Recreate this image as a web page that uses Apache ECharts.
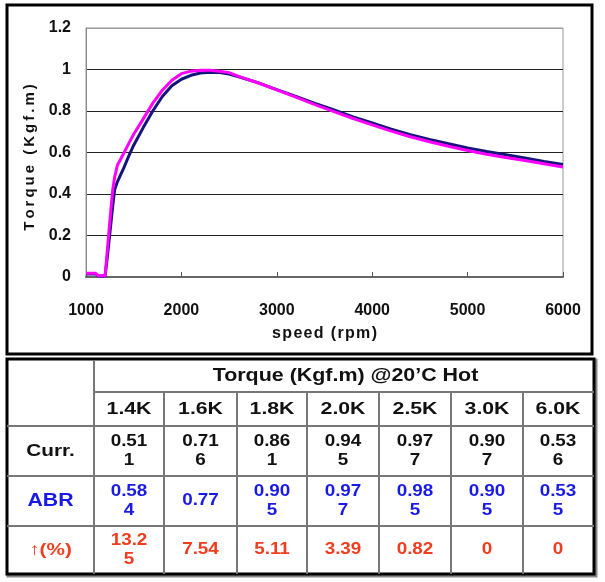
<!DOCTYPE html>
<html>
<head>
<meta charset="utf-8">
<script src="https://cdn.jsdelivr.net/npm/echarts@6/dist/echarts.min.js"></script>
<style>
html,body{margin:0;padding:0;background:#fff;}
#chart{width:605px;height:582px;}
</style>
</head>
<body>
<div id="chart"></div>
<script>
// ---- chart data ----
const speeds = [1000,1100,1130,1200,1220,1250,1280,1300,1330,1360,1400,1450,1500,1600,1700,1800,1900,2000,2100,2200,2300,2400,2500,2600,2800,3000,3200,3400,3600,3800,4000,4200,4400,4600,4800,5000,5200,5400,5600,5800,6000];
const currTorque = [0.015,0.015,0.005,0.005,0.08,0.21,0.34,0.42,0.46,0.49,0.53,0.585,0.635,0.72,0.80,0.87,0.922,0.953,0.972,0.983,0.987,0.985,0.978,0.965,0.937,0.903,0.870,0.836,0.805,0.772,0.742,0.712,0.686,0.663,0.642,0.622,0.605,0.589,0.573,0.557,0.542];
const abrTorque = [0.018,0.018,0.006,0.006,0.11,0.27,0.42,0.48,0.54,0.565,0.60,0.645,0.688,0.762,0.838,0.9,0.948,0.98,0.992,0.996,0.996,0.992,0.985,0.967,0.936,0.902,0.867,0.831,0.797,0.764,0.733,0.703,0.676,0.652,0.630,0.610,0.592,0.576,0.561,0.546,0.530];

// ---- table data ----
const tableTitle = 'Torque (Kgf.m) @20\u2019C Hot';
const tableCols = ['1.4K','1.6K','1.8K','2.0K','2.5K','3.0K','6.0K'];
const rowLabels = ['Curr.','ABR','\u2191(%)'];
const currVals = ['0.511','0.716','0.861','0.945','0.977','0.907','0.536'];
const abrVals = ['0.584','0.77','0.905','0.977','0.985','0.905','0.535'];
const pctVals = ['13.25','7.54','5.11','3.39','0.82','0','0'];

const FONT = '"Liberation Sans", Arial, sans-serif';
const spaced = (s, sp) => s.split('').join(sp);

const chart = echarts.init(document.getElementById('chart'), null, {renderer:'canvas'});

// table layout
const colX = [94,164,237,307,379,451,523,593];
const rowY = [360,392,426,476,526,574];
const tLeft = 7, tRight = 594;
const rowColors = ['#111111','#1a1ae6','#f23c1e'];
const rowData = [currVals, abrVals, pctVals];

function wrap(s){ return s.length > 4 ? s.slice(0,4) + '\n' + s.slice(4) : s; }
function txt(x, y, text, size, color, sx, lh){
  return {type:'text', x:x, y:y, scaleX:sx, scaleY:1, z:10,
    style:{text:text, fill:color, font:'bold '+size+'px '+FONT,
      align:'center', verticalAlign:'middle', textAlign:'center', textVerticalAlign:'middle',
      lineHeight: lh || size}};
}
function ln(x1,y1,x2,y2,color,w){
  return {type:'line', z:5, shape:{x1:x1,y1:y1,x2:x2,y2:y2}, style:{stroke:color, lineWidth:w}};
}

const els = [];
// chart outer frame
els.push({type:'rect', z:1, shape:{x:7, y:5, width:585, height:349}, style:{fill:null, stroke:'#000', lineWidth:3}});
// table shadow + frame
els.push({type:'rect', z:1, shape:{x:8, y:360, width:588, height:216}, style:{fill:null, stroke:'#888', lineWidth:3}});
els.push({type:'rect', z:2, shape:{x:tLeft, y:359, width:tRight-tLeft, height:215}, style:{fill:'#fff', stroke:'#000', lineWidth:3}});
// horizontal lines
els.push(ln(colX[0], rowY[1], tRight, rowY[1], '#777', 2));
for (let r = 2; r <= 4; r++) els.push(ln(tLeft, rowY[r], tRight, rowY[r], '#777', 2));
// vertical lines
els.push(ln(colX[0], 360, colX[0], 574, '#777', 2));
for (let c = 1; c < colX.length - 1; c++) els.push(ln(colX[c], rowY[1], colX[c], 574, '#777', 2));
// title
els.push(txt((colX[0]+colX[7])/2 + 2, 376, tableTitle, 18, '#111', 1.19));
// column headers
tableCols.forEach((t,i) => els.push(txt((colX[i]+colX[i+1])/2, 409.5, t, 17, '#111', 1.25)));
// rows
rowLabels.forEach((lab, r) => {
  const cy = (rowY[r+2] + rowY[r+3]) / 2;
  const size = r === 1 ? 18.5 : 17;
  els.push(txt(50.5, cy, lab, size, rowColors[r], r === 1 ? 1.15 : 1.22));
  rowData[r].forEach((v, i) => {
    els.push(txt((colX[i]+colX[i+1])/2, cy, wrap(v), 16, rowColors[r], 1.18, 19.5));
  });
});

const option = {
  backgroundColor:'#ffffff',
  animation:false,
  grid:{left:86, top:28, width:477, height:249, show:true, borderColor:'#999', borderWidth:1, backgroundColor:'transparent'},
  xAxis:{
    type:'value', min:1000, max:6000, interval:1000,
    name: spaced('speed (rpm)', '\u200A'), nameLocation:'middle', nameGap:49,
    nameTextStyle:{fontFamily:FONT, fontWeight:'bold', fontSize:16, color:'#111'},
    axisLine:{show:true, lineStyle:{color:'#666', width:2}},
    axisTick:{show:true, inside:true, length:5, lineStyle:{color:'#555', width:1}},
    axisLabel:{margin:26, fontFamily:FONT, fontWeight:'bold', fontSize:16, color:'#111',
      formatter: v => String(v)},
    splitLine:{show:false}
  },
  yAxis:{
    type:'value', min:0, max:1.2, interval:0.2,
    name: spaced('Torque (Kgf.m)', '\u2009'), nameLocation:'middle', nameGap:44, nameRotate:90,
    nameTextStyle:{fontFamily:FONT, fontWeight:'bold', fontSize:15, color:'#111', padding:[0,10,0,0]},
    axisLine:{show:true, lineStyle:{color:'#888', width:1}},
    axisTick:{show:false},
    axisLabel:{margin:15, fontFamily:FONT, fontWeight:'bold', fontSize:16, color:'#111'},
    splitLine:{show:true, lineStyle:{color:['#888','#222','#222','#222','#222','#222','#999'], width:1}}
  },
  series:[
    {name:'Curr.', type:'line', showSymbol:false, smooth:false, z:3,
     lineStyle:{color:'#14147a', width:3}, itemStyle:{color:'#14147a'},
     data: speeds.map((s,i)=>[s, currTorque[i]])},
    {name:'ABR', type:'line', showSymbol:false, smooth:false, z:4,
     lineStyle:{color:'#ff00ff', width:3}, itemStyle:{color:'#ff00ff'},
     data: speeds.map((s,i)=>[s, abrTorque[i]])}
  ],
  graphic:{elements:els}
};
chart.setOption(option);
</script>
</body>
</html>
